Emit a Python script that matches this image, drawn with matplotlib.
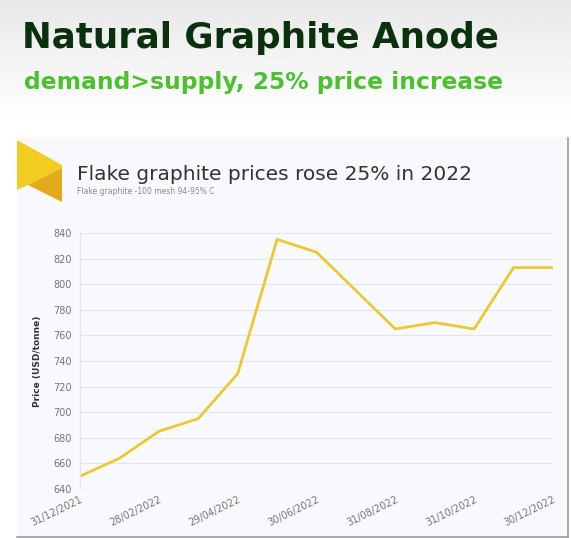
"""Flake graphite price chart, 2022."""

import matplotlib

matplotlib.use("Agg")
import matplotlib.pyplot as plt
import numpy as np
from matplotlib.patches import Polygon, Rectangle

# monthly prices, USD/tonne
dates = [
    "31/12/2021", "31/01/2022", "28/02/2022", "31/03/2022", "29/04/2022",
    "31/05/2022", "30/06/2022", "29/07/2022", "31/08/2022", "30/09/2022",
    "31/10/2022", "30/11/2022", "30/12/2022",
]
prices = [650, 664, 685, 695, 730, 835, 825, 795, 765, 770, 765, 813, 813]
y_ticks = [640, 660, 680, 700, 720, 740, 760, 780, 800, 820, 840]

W, H = 571, 538
fig = plt.figure(figsize=(W / 100, H / 100), dpi=100)
fig.patch.set_facecolor("white")


def fx(px):
    return px / W


def fy(py):
    return 1 - py / H


# header gradient
bg = fig.add_axes([0, fy(120), 1, 120 / H], zorder=-1)
grad = np.linspace(0.91, 1.0, 100).reshape(-1, 1)
bg.imshow(grad, cmap="gray", vmin=0, vmax=1, aspect="auto", extent=[0, 1, 0, 1])
bg.axis("off")

fig.text(fx(22), fy(38), "Natural Graphite Anode", fontsize=25.7, fontweight="heavy",
         color="#0b300e", va="center", family="DejaVu Sans")
fig.text(fx(24), fy(83), "demand>supply, 25% price increase", fontsize=16.8,
         fontweight="bold", color="#4cc12f", va="center", family="DejaVu Sans")

# chart panel
fig.patches.append(Rectangle((fx(17), fy(537)), fx(551), 400 / H, transform=fig.transFigure,
                             facecolor="#f8f9fc", edgecolor="none", zorder=-0.5))
fig.lines.append(plt.Line2D([fx(568), fx(568)], [fy(537), fy(138)], transform=fig.transFigure,
                            color="#9a9a9a", lw=1.2))
fig.lines.append(plt.Line2D([fx(17), fx(568)], [fy(537), fy(537)], transform=fig.transFigure,
                            color="#9a9a9a", lw=1.2))

# yellow icon
light = [(17, 140), (62, 165), (62, 168), (28, 185), (17, 190)]
dark = [(62, 168), (62, 202), (28, 185)]
fig.patches.append(Polygon([(fx(x), fy(y)) for x, y in light], closed=True,
                           transform=fig.transFigure, facecolor="#f1cd22", edgecolor="none"))
fig.patches.append(Polygon([(fx(x), fy(y)) for x, y in dark], closed=True,
                           transform=fig.transFigure, facecolor="#e2a91c", edgecolor="none"))

fig.text(fx(77), fy(175), "Flake graphite prices rose 25% in 2022", fontsize=14.5,
         color="#333333", va="center")
fig.text(fx(77), fy(191), "Flake graphite -100 mesh 94-95% C", fontsize=5.5,
         color="#8a8a8a", va="center")

ax = fig.add_axes([fx(80), fy(489), fx(553 - 80), (489 - 233) / H], zorder=2)
ax.set_facecolor("none")
x = np.arange(len(dates))
ax.plot(x, prices, color="#ecc933", lw=2, solid_joinstyle="miter")
ax.set_xlim(0, len(dates) - 1)
ax.set_ylim(640, 840)
ax.set_yticks(y_ticks)
ax.set_xticks(x[::2])
ax.set_xticklabels(dates[::2], rotation=26, ha="right", rotation_mode="anchor")
ax.tick_params(axis="both", length=0, labelsize=7, colors="#747474", pad=6)
ax.tick_params(axis="x", pad=4)
ax.grid(axis="y", color="#e4e6ec", lw=0.8)
for side in ("top", "right", "bottom"):
    ax.spines[side].set_visible(False)
ax.spines["left"].set_color("#e4e6ec")
ax.set_ylabel("Price (USD/tonne)", fontsize=6.5, fontweight="bold", color="#333333", labelpad=8)

fig.savefig("out.png", dpi=100)
